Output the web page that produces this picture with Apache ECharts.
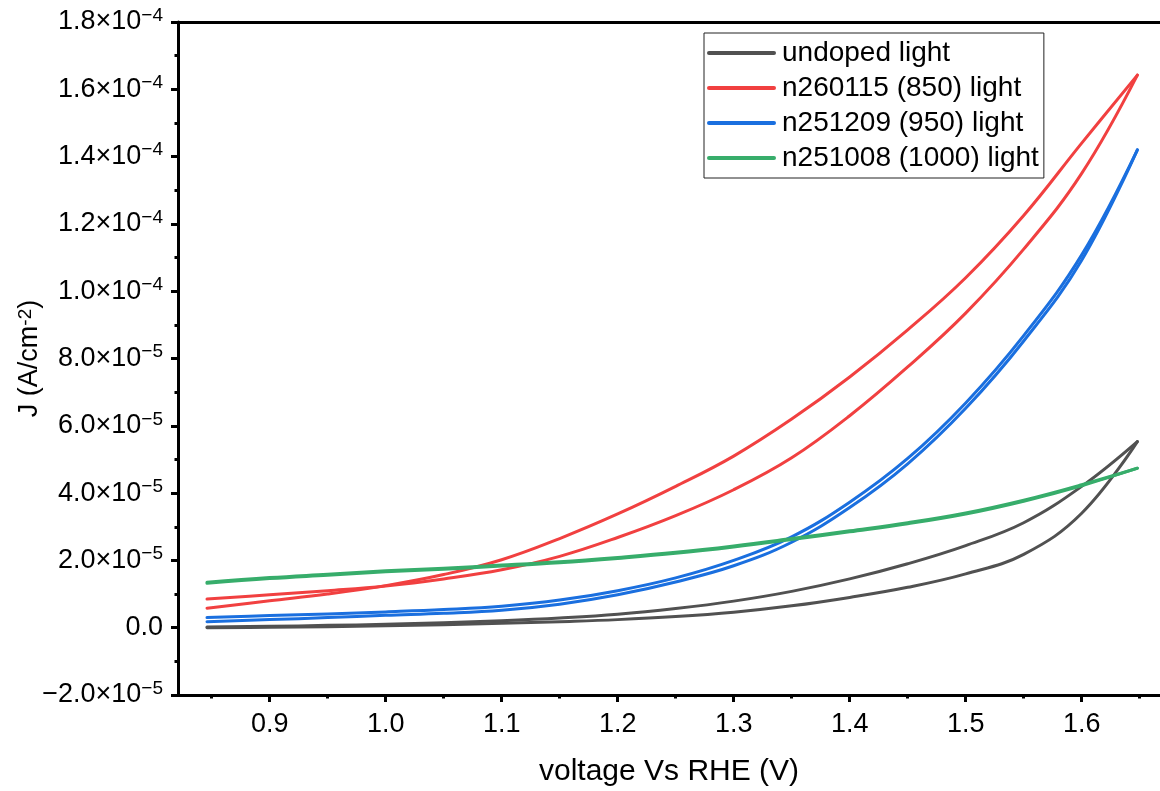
<!DOCTYPE html>
<html>
<head>
<meta charset="utf-8">
<script src="https://cdn.jsdelivr.net/npm/echarts@6/dist/echarts.min.js"></script>
<style>
  html, body { margin: 0; padding: 0; background: #fff; }
  #chart { width: 1160px; height: 791px; }
</style>
</head>
<body>
<div id="chart"></div>
<script>
// Applied potential, V vs RHE (shared sampling grid for every scan branch)
const voltage = [0.846, 0.9, 0.95, 1.0, 1.05, 1.1, 1.15, 1.2, 1.25, 1.3, 1.35, 1.4, 1.45, 1.5, 1.55, 1.6, 1.648];

// Current density J, in units of 1e-5 A/cm^2
const undopedUpper = [0.02, 0.04, 0.07, 0.10, 0.15, 0.21, 0.29, 0.40, 0.57, 0.79, 1.08, 1.45, 1.90, 2.44, 3.12, 4.20, 5.53];
const undopedLower = [0.00, 0.01, 0.03, 0.06, 0.09, 0.13, 0.18, 0.24, 0.33, 0.46, 0.65, 0.90, 1.20, 1.60, 2.18, 3.40, 5.53];

const n850Upper = [0.58, 0.80, 1.00, 1.25, 1.58, 2.02, 2.65, 3.38, 4.20, 5.10, 6.20, 7.45, 8.85, 10.40, 12.25, 14.40, 16.42];
const n850Lower = [0.85, 0.98, 1.10, 1.24, 1.45, 1.72, 2.12, 2.68, 3.33, 4.10, 5.05, 6.30, 7.75, 9.35, 11.25, 13.50, 16.42];

const n950Upper = [0.30, 0.36, 0.41, 0.47, 0.54, 0.64, 0.82, 1.10, 1.48, 2.00, 2.70, 3.73, 5.03, 6.68, 8.68, 11.08, 14.20];
const n950Lower = [0.18, 0.24, 0.30, 0.37, 0.43, 0.52, 0.70, 0.98, 1.36, 1.84, 2.54, 3.57, 4.87, 6.52, 8.52, 10.92, 14.20];

const n1000Upper = [1.35, 1.49, 1.59, 1.69, 1.77, 1.86, 1.96, 2.09, 2.24, 2.43, 2.65, 2.88, 3.12, 3.41, 3.79, 4.25, 4.74];
const n1000Lower = [1.32, 1.46, 1.56, 1.66, 1.74, 1.83, 1.93, 2.06, 2.21, 2.40, 2.62, 2.85, 3.09, 3.38, 3.76, 4.22, 4.74];

const seriesNames = ['undoped light', 'n260115 (850) light', 'n251209 (950) light', 'n251008 (1000) light'];
const seriesColors = ['#515151', '#F14040', '#1A6FDF', '#37AD6B'];
const branches = [
  [undopedUpper, undopedLower],
  [n850Upper, n850Lower],
  [n950Upper, n950Lower],
  [n1000Upper, n1000Lower]
];

const xMajorTicks = [0.9, 1.0, 1.1, 1.2, 1.3, 1.4, 1.5, 1.6];
const xMinorTicks = [0.85, 0.95, 1.05, 1.15, 1.25, 1.35, 1.45, 1.55, 1.65];

const FONT = '"Liberation Sans", Arial, sans-serif';
const X_MIN = 0.821, X_MAX = 1.6675;

// Tick label in the form m.m×10^e (value given in units of 1e-5)
function sciLabel(v) {
  if (Math.abs(v) < 1e-9) return '{b|0.0}';
  const j = v * 1e-5;
  const e = Math.floor(Math.log10(Math.abs(j)) + 1e-9);
  const m = (j / Math.pow(10, e)).toFixed(1).replace('-', '\u2212');
  return '{b|' + m + '\u00d710}{s|\u2212' + Math.abs(e) + '}';
}

const series = [];
branches.forEach((pair, k) => {
  pair.forEach(arr => {
    series.push({
      name: seriesNames[k],
      type: 'line',
      data: voltage.map((v, i) => [v, arr[i]]),
      smooth: 0.4,
      symbol: 'none',
      color: seriesColors[k],
      lineStyle: { width: 3, color: seriesColors[k], cap: 'round', join: 'round' },
      z: 2 + k
    });
  });
});

const chart = echarts.init(document.getElementById('chart'), null, { renderer: 'canvas' });
chart.setOption({
  animation: false,
  backgroundColor: '#fff',
  grid: { left: 178, right: 0, top: 22, bottom: 96, outerBoundsMode: 'none', containLabel: false },
  legend: {
    data: seriesNames,
    orient: 'vertical',
    left: 704,
    top: 33,
    padding: [6, 5, 6, 3],
    itemWidth: 65,
    itemHeight: 14,
    itemGap: 7,
    borderColor: '#222',
    borderWidth: 1,
    itemStyle: { opacity: 0 },
    lineStyle: { width: 4, cap: 'round' },
    textStyle: { fontFamily: FONT, fontSize: 28, color: '#000', lineHeight: 28, padding: [0, 0, 0, 3] }
  },
  xAxis: [
    {
      type: 'value',
      min: X_MIN,
      max: X_MAX,
      name: 'voltage Vs RHE (V)',
      nameLocation: 'middle',
      nameGap: 62,
      nameMoveOverlap: false,
      nameTextStyle: { fontFamily: FONT, fontSize: 30, color: '#000' },
      axisLine: { show: true, onZero: false, lineStyle: { color: '#000', width: 3 } },
      axisTick: { show: true, customValues: xMajorTicks, length: 7, lineStyle: { color: '#000', width: 3 } },
      axisLabel: {
        customValues: xMajorTicks,
        margin: 16,
        fontFamily: FONT, fontSize: 27, color: '#000',
        formatter: v => v.toFixed(1)
      },
      splitLine: { show: false }
    },
    {
      type: 'value',
      min: X_MIN,
      max: X_MAX,
      position: 'bottom',
      axisLine: { show: false, onZero: false },
      axisTick: { show: true, customValues: xMinorTicks, length: 3.5, lineStyle: { color: '#000', width: 3 } },
      axisLabel: { show: false },
      splitLine: { show: false }
    },
    {
      type: 'value',
      min: X_MIN,
      max: X_MAX,
      position: 'top',
      axisLine: { show: true, onZero: false, lineStyle: { color: '#000', width: 3 } },
      axisTick: { show: false },
      axisLabel: { show: false },
      splitLine: { show: false }
    }
  ],
  yAxis: {
    type: 'value',
    min: -2,
    max: 18,
    interval: 2,
    name: 'J (A/cm{s|-2})',
    nameLocation: 'middle',
    nameGap: 135,
    nameMoveOverlap: false,
    nameTextStyle: {
      fontFamily: FONT, fontSize: 27, color: '#000',
      rich: {
        s: { fontFamily: FONT, fontSize: 19, lineHeight: 19, verticalAlign: 'top', color: '#000' }
      }
    },
    axisLine: { show: true, onZero: false, lineStyle: { color: '#000', width: 3 } },
    axisTick: { show: true, length: 7, lineStyle: { color: '#000', width: 3 } },
    minorTick: { show: true, splitNumber: 2, length: 3.5, lineStyle: { color: '#000', width: 3 } },
    axisLabel: {
      margin: 15,
      formatter: sciLabel,
      rich: {
        b: { fontFamily: FONT, fontSize: 27, lineHeight: 32, color: '#000' },
        s: { fontFamily: FONT, fontSize: 19, lineHeight: 19, verticalAlign: 'top', color: '#000' }
      }
    },
    splitLine: { show: false },
    minorSplitLine: { show: false }
  },
  series: series
});
</script>
</body>
</html>
